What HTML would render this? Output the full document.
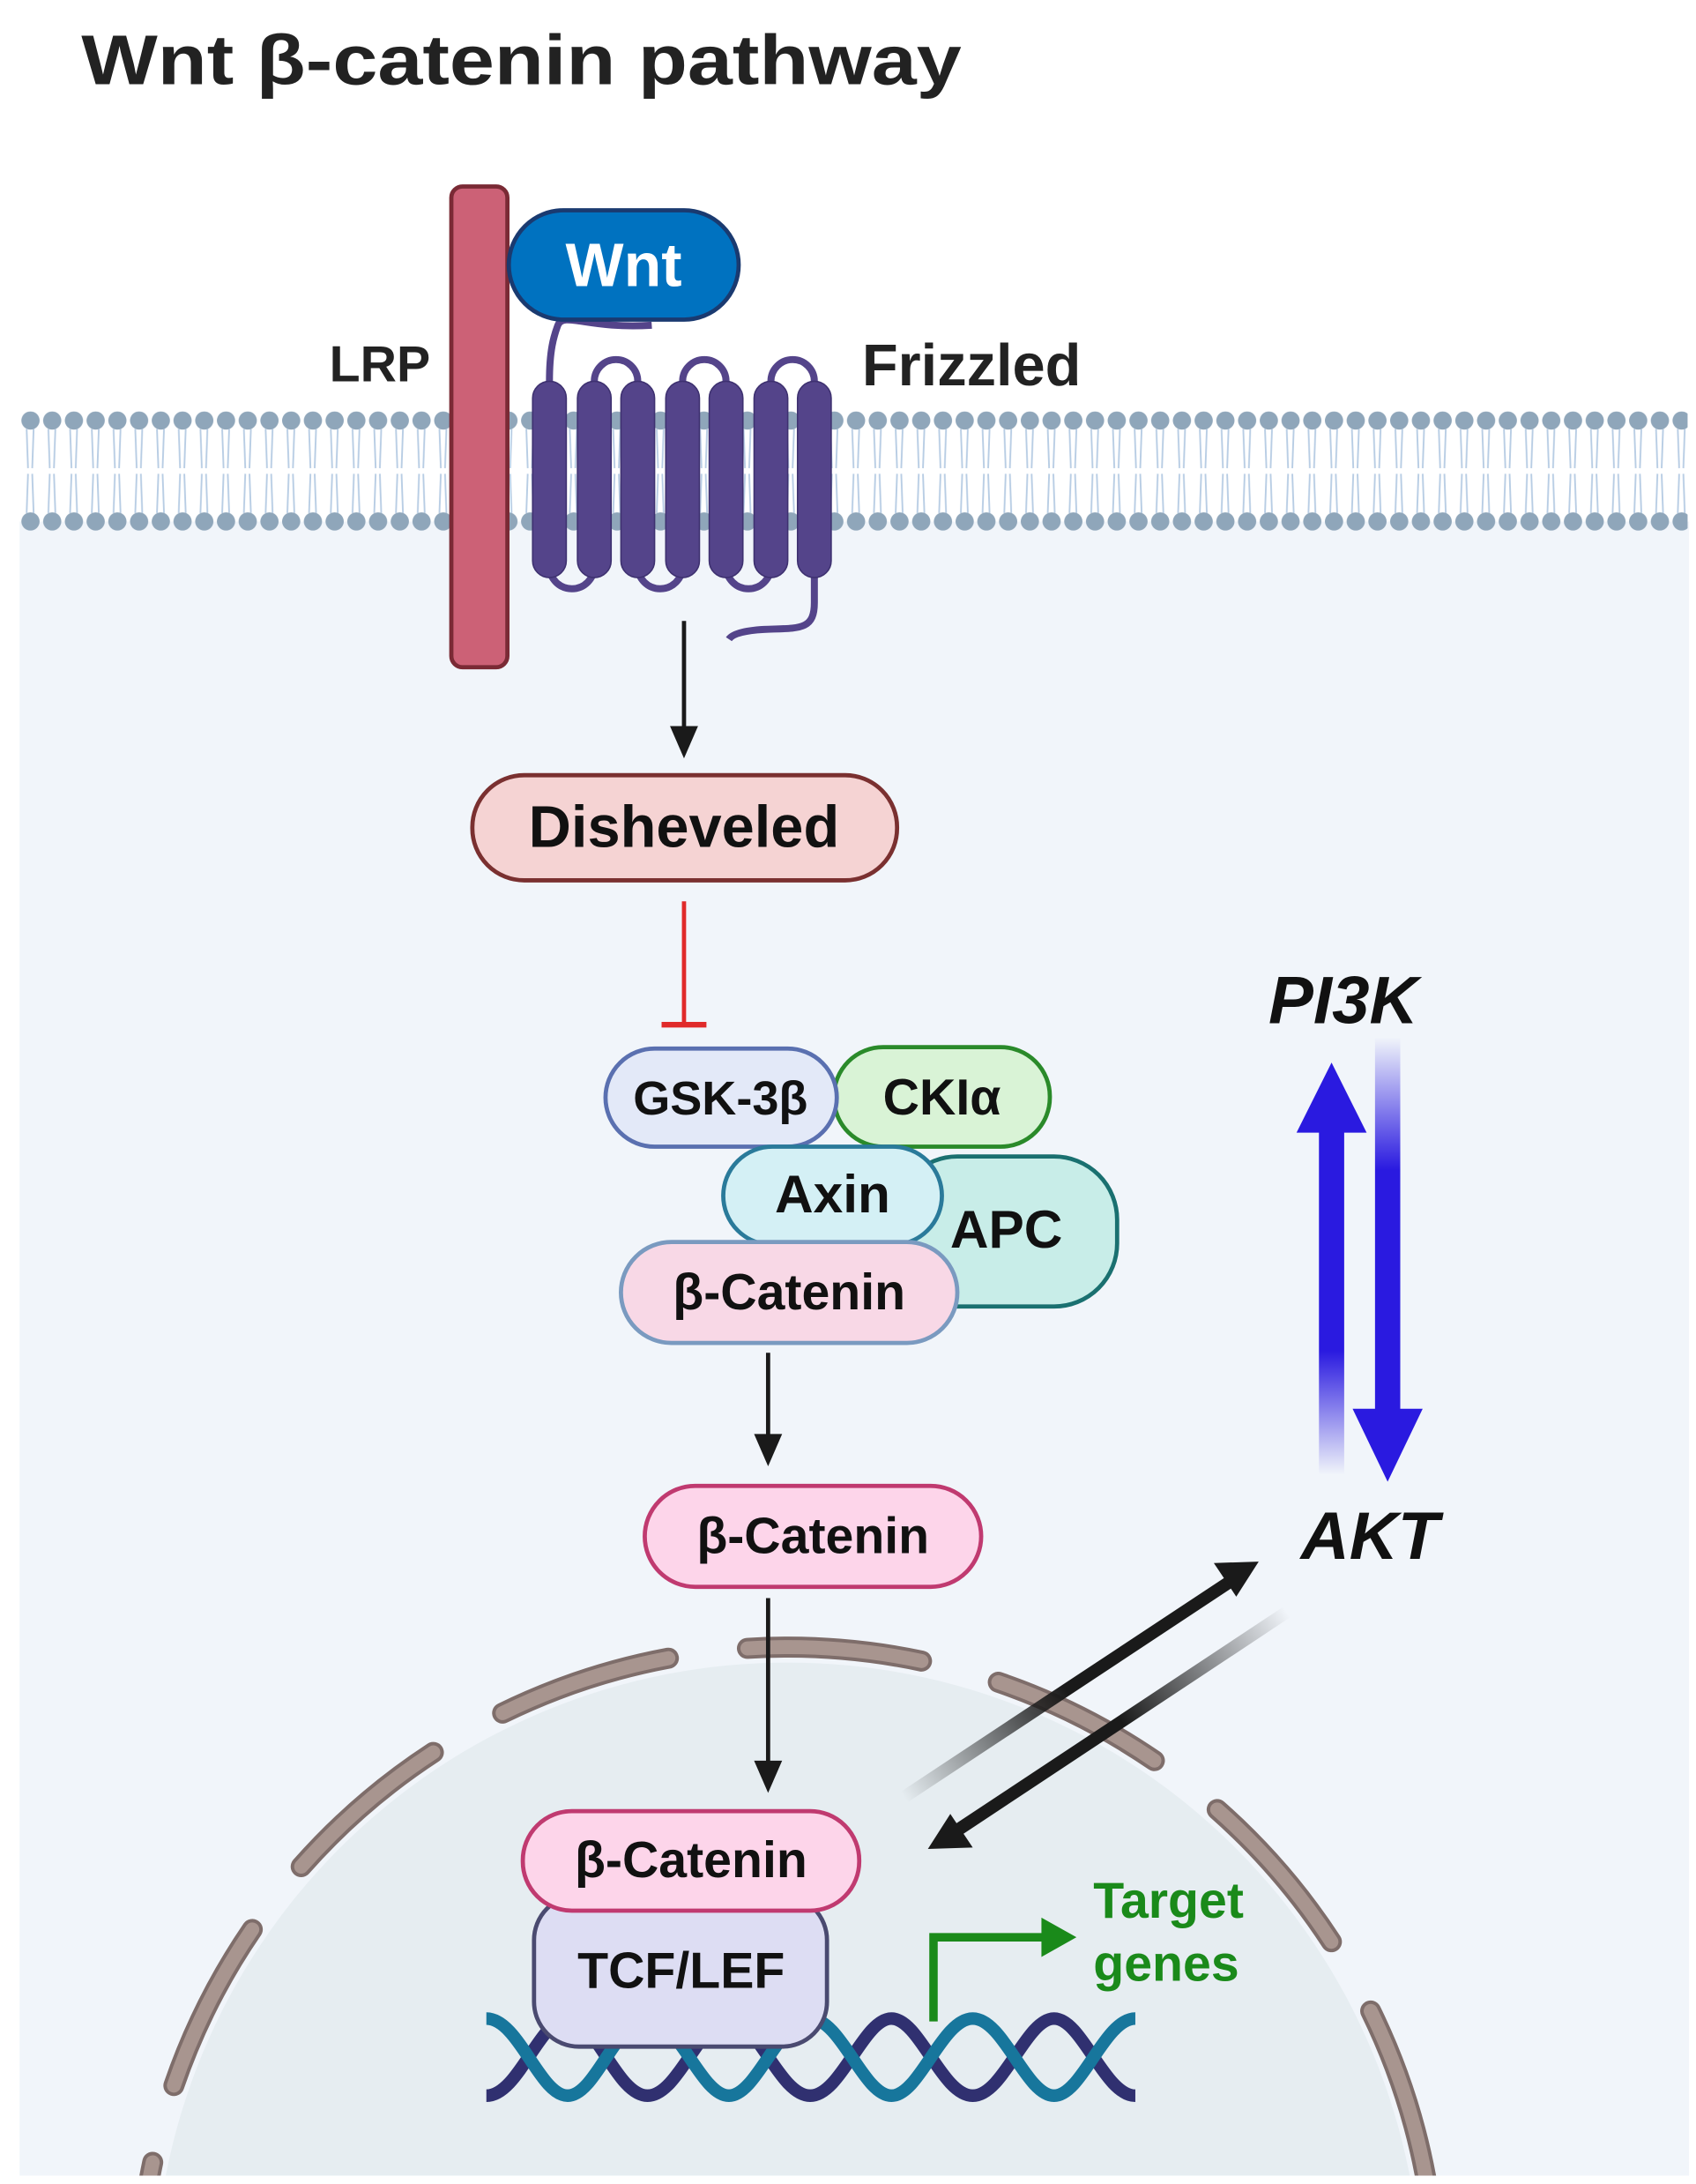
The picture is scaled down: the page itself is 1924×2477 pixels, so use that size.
<!DOCTYPE html>
<html><head><meta charset="utf-8"><style>html,body{margin:0;padding:0;background:#fff;overflow:hidden;width:1924px;height:2477px}svg{display:block}text{font-family:"Liberation Sans",sans-serif;font-weight:bold}</style></head>
<body>
<svg width="1924" height="2477" viewBox="0 0 1210 1558" preserveAspectRatio="none" xmlns="http://www.w3.org/2000/svg">
<defs>
<pattern id="dots" x="14" y="293.5" width="15.5" height="72" patternUnits="userSpaceOnUse">
<circle cx="7.75" cy="6.5" r="6.5" fill="#8fa6ba"/>
</pattern>
<pattern id="tails" x="14" y="300" width="15.5" height="72" patternUnits="userSpaceOnUse">
<path d="M5,6 L6,34 M10,6 L9,34 M6,38 L5,66 M9,38 L10,66" stroke="#b8cde4" stroke-width="1.2" fill="none"/>
</pattern>
<linearGradient id="gUp" x1="0" y1="1" x2="0" y2="0"><stop offset="0" stop-color="#2a1ae0" stop-opacity="0"/><stop offset="0.35" stop-color="#2a1ae0"/><stop offset="1" stop-color="#2a1ae0"/></linearGradient>
<linearGradient id="gDn" x1="0" y1="0" x2="0" y2="1"><stop offset="0" stop-color="#2a1ae0" stop-opacity="0"/><stop offset="0.35" stop-color="#2a1ae0"/><stop offset="1" stop-color="#2a1ae0"/></linearGradient>
<linearGradient id="gA1" gradientUnits="userSpaceOnUse" x1="645" y1="1282" x2="760" y2="1205"><stop offset="0" stop-color="#1a1a1a" stop-opacity="0"/><stop offset="1" stop-color="#1a1a1a"/></linearGradient>
<linearGradient id="gA2" gradientUnits="userSpaceOnUse" x1="918" y1="1150" x2="800" y2="1228"><stop offset="0" stop-color="#1a1a1a" stop-opacity="0"/><stop offset="1" stop-color="#1a1a1a"/></linearGradient>
<clipPath id="panel"><rect x="14" y="372" width="1191" height="1180"/></clipPath>
</defs>

<text x="58" y="60" font-size="50" fill="#222" textLength="628" lengthAdjust="spacingAndGlyphs">Wnt β-catenin pathway</text>

<rect x="14" y="372" width="1191" height="1180" fill="#f1f5fa"/>
<rect x="14" y="300" width="1191" height="72" fill="#ffffff"/>
<rect x="14" y="300" width="1190" height="72" fill="url(#tails)"/>
<rect x="14" y="293.5" width="1190" height="86" fill="url(#dots)"/>

<g clip-path="url(#panel)">
<circle cx="562" cy="1638" r="452" fill="#e6edf1"/>
<circle cx="562" cy="1638" r="463" fill="none" stroke="#7e6d6a" stroke-width="15" stroke-linecap="round" stroke-dasharray="125 56.8" stroke-dashoffset="28.8"/>
<circle cx="562" cy="1638" r="463" fill="none" stroke="#a8958f" stroke-width="10" stroke-linecap="round" stroke-dasharray="125 56.8" stroke-dashoffset="28.8"/>
</g>

<rect x="322" y="133" width="40" height="343" rx="8" fill="#cc6176" stroke="#7a2a35" stroke-width="3"/>
<text x="235" y="272" font-size="36" fill="#222">LRP</text>

<g fill="none" stroke="#54448a" stroke-width="5">
<path d="M392,272 C392,250 395,240 398,232 C402,222 420,235 465,232"/>
<path d="M424,272 A15.5,15.5 0 0 1 455,272 M487,272 A15.5,15.5 0 0 1 518,272 M550,272 A15.5,15.5 0 0 1 581,272"/>
<path d="M392,404 A16,16 0 0 0 424,404 M455,404 A16,16 0 0 0 487,404 M518,404 A16,16 0 0 0 550,404"/>
<path d="M581,404 L581,430 C581,450 570,448 545,449 C528,450 522,453 520,456"/>
</g>
<g fill="#54448a" stroke="#3e3170" stroke-width="1">
<rect x="380" y="272" width="24" height="140" rx="12"/>
<rect x="412" y="272" width="24" height="140" rx="12"/>
<rect x="443" y="272" width="24" height="140" rx="12"/>
<rect x="475" y="272" width="24" height="140" rx="12"/>
<rect x="506" y="272" width="24" height="140" rx="12"/>
<rect x="538" y="272" width="24" height="140" rx="12"/>
<rect x="569" y="272" width="24" height="140" rx="12"/>
</g>
<rect x="363" y="150" width="164" height="78" rx="39" fill="#0072c0" stroke="#1a3a70" stroke-width="3"/>
<text x="445" y="204" font-size="44" fill="#fff" text-anchor="middle">Wnt</text>
<text x="615" y="275" font-size="42" fill="#222">Frizzled</text>

<line x1="488" y1="443" x2="488" y2="520" stroke="#1a1a1a" stroke-width="3"/>
<polygon points="478,518 498,518 488,541" fill="#1a1a1a"/>
<rect x="337" y="553" width="303" height="75" rx="37" fill="#f5d3d3" stroke="#7a3030" stroke-width="3"/>
<text x="488" y="604" font-size="42" fill="#111" text-anchor="middle">Disheveled</text>

<line x1="488" y1="643" x2="488" y2="731" stroke="#e02a2a" stroke-width="3"/>
<line x1="472" y1="731" x2="504" y2="731" stroke="#e02a2a" stroke-width="4"/>

<rect x="638" y="825" width="159" height="107" rx="45" fill="#c8ede8" stroke="#1a7070" stroke-width="3"/>
<text x="718" y="890" font-size="38" fill="#111" text-anchor="middle">APC</text>
<rect x="595" y="747" width="154" height="71" rx="35" fill="#d9f3d6" stroke="#2a8a2a" stroke-width="3"/>
<text x="672" y="795" font-size="36" fill="#111" text-anchor="middle">CKIα</text>
<rect x="432" y="748" width="165" height="70" rx="35" fill="#e3e9f8" stroke="#5a70b0" stroke-width="3"/>
<text x="514" y="795" font-size="34" fill="#111" text-anchor="middle">GSK-3β</text>
<rect x="516" y="818" width="156" height="70" rx="35" fill="#d4f0f5" stroke="#2a7a9a" stroke-width="3"/>
<text x="594" y="865" font-size="38" fill="#111" text-anchor="middle">Axin</text>
<rect x="443" y="886" width="240" height="72" rx="36" fill="#f8d8e6" stroke="#7a9ac0" stroke-width="3"/>
<text x="563" y="934" font-size="36" fill="#111" text-anchor="middle">β-Catenin</text>

<line x1="548" y1="965" x2="548" y2="1025" stroke="#1a1a1a" stroke-width="3"/>
<polygon points="538,1023 558,1023 548,1046" fill="#1a1a1a"/>
<rect x="460" y="1060" width="240" height="72" rx="36" fill="#fdd5ea" stroke="#c03a70" stroke-width="3"/>
<text x="580" y="1108" font-size="36" fill="#111" text-anchor="middle">β-Catenin</text>

<line x1="548" y1="1140" x2="548" y2="1258" stroke="#1a1a1a" stroke-width="3"/>
<polygon points="538,1256 558,1256 548,1279" fill="#1a1a1a"/>

<g fill="none" stroke-width="9">
<path d="M347,1495 C370,1495 385,1440 405,1440 C425,1440 440,1495 462,1495 C484,1495 500,1440 520,1440 C540,1440 556,1495 578,1495 C600,1495 616,1440 636,1440 C656,1440 672,1495 694,1495 C716,1495 732,1440 752,1440 C772,1440 788,1495 810,1495" stroke="#303070"/>
<path d="M347,1440 C370,1440 385,1495 405,1495 C425,1495 440,1440 462,1440 C484,1440 500,1495 520,1495 C540,1495 556,1440 578,1440 C600,1440 616,1495 636,1495 C656,1495 672,1440 694,1440 C716,1440 732,1495 752,1495 C772,1495 788,1440 810,1440" stroke="#17769c"/>
</g>
<rect x="381" y="1352" width="209" height="108" rx="32" fill="#ddddf3" stroke="#4a4a70" stroke-width="3"/>
<text x="486" y="1418" font-size="36" fill="#111" text-anchor="middle">TCF/LEF</text>
<rect x="373" y="1292" width="240" height="71" rx="35" fill="#fdd5ea" stroke="#c03a70" stroke-width="3"/>
<text x="493" y="1339" font-size="36" fill="#111" text-anchor="middle">β-Catenin</text>

<path d="M666,1442 L666,1382 L745,1382" fill="none" stroke="#1a8a1a" stroke-width="6"/>
<polygon points="743,1368 768,1382 743,1396" fill="#1a8a1a"/>
<text x="780" y="1368" font-size="36" fill="#1a8a1a">Target</text>
<text x="780" y="1413" font-size="36" fill="#1a8a1a">genes</text>

<text x="905" y="730" font-size="48" font-style="italic" fill="#111">PI3K</text>
<text x="928" y="1112" font-size="48" font-style="italic" fill="#111">AKT</text>
<rect x="941" y="800" width="18" height="252" fill="url(#gUp)"/>
<polygon points="925,808 975,808 950,758" fill="#2a1ae0"/>
<rect x="981" y="740" width="18" height="270" fill="url(#gDn)"/>
<polygon points="965,1005 1015,1005 990,1057" fill="#2a1ae0"/>

<line x1="645" y1="1282" x2="878" y2="1128" stroke="url(#gA1)" stroke-width="9"/>
<polygon points="898,1114 866,1115 882,1139" fill="#1a1a1a"/>
<line x1="918" y1="1150" x2="684" y2="1305" stroke="url(#gA2)" stroke-width="9"/>
<polygon points="662,1319 694,1318 678,1294" fill="#1a1a1a"/>
</svg>
</body></html>
